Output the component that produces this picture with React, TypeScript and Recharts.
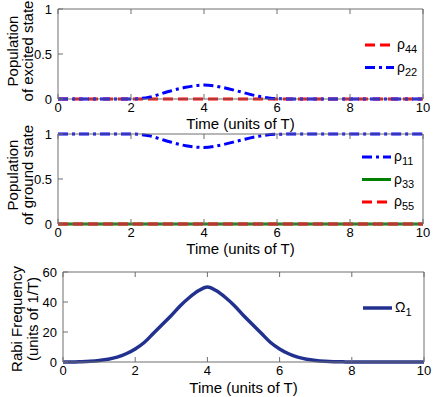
import React from 'react';
import { LineChart, Line, XAxis, YAxis, Legend } from 'recharts';

const FONT = '"Liberation Sans", Arial, Helvetica, sans-serif';
const FRAME = '#6f6f6f';

// ---- data ----
const time = [0, 0.5, 1, 1.5, 2, 2.5, 3, 3.5, 4, 4.5, 5, 5.5, 6, 6.5, 7, 7.5, 8, 8.5, 9, 9.5, 10];
const rho44 = [0, 0, 0, 0, 0, 0, 0, 0, 0, 0, 0, 0, 0, 0, 0, 0, 0, 0, 0, 0, 0];
const rho22 = [0, 0, 0, 0, 0, 0.02, 0.08, 0.13, 0.155, 0.13, 0.08, 0.03, 0.003, 0, 0, 0, 0, 0, 0, 0, 0];
const rho11 = [1, 1, 1, 1, 1, 0.98, 0.92, 0.87, 0.85, 0.88, 0.93, 0.975, 0.997, 1, 1, 1, 1, 1, 1, 1, 1];
const rho33 = [0, 0, 0, 0, 0, 0, 0, 0, 0, 0, 0, 0, 0, 0, 0, 0, 0, 0, 0, 0, 0];
const rho55 = [0, 0, 0, 0, 0, 0, 0, 0, 0, 0, 0, 0, 0, 0, 0, 0, 0, 0, 0, 0, 0];

const timeFine = [
  0, 0.25, 0.5, 0.75, 1, 1.25, 1.5, 1.75, 2, 2.25, 2.5, 2.75, 3, 3.25, 3.5, 3.75, 4,
  4.25, 4.5, 4.75, 5, 5.25, 5.5, 5.75, 6, 6.25, 6.5, 6.75, 7, 7.25, 7.5, 7.75, 8,
  8.25, 8.5, 8.75, 9, 9.25, 9.5, 9.75, 10,
];
const omega1 = [
  0, 0, 0.2, 0.5, 1, 1.8, 3.2, 5.5, 8.7, 13, 19, 25, 31, 37.5, 43, 47.5, 50,
  47.5, 43, 37.5, 31, 25, 19, 13, 8.7, 5.5, 3.2, 1.8, 1, 0.5, 0.2, 0.1, 0,
  0, 0, 0, 0, 0, 0, 0, 0,
];

const xTicks = [0, 2, 4, 6, 8, 10];
const popTicks = [0, 0.5, 1];
const rabiTicks = [0, 20, 40, 60];

const excitedData = time.map((t, i) => ({ t, rho44: rho44[i], rho22: rho22[i] }));
const groundData = time.map((t, i) => ({ t, rho11: rho11[i], rho33: rho33[i], rho55: rho55[i] }));
const rabiData = timeFine.map((t, i) => ({ t, omega1: omega1[i] }));

type S = { key: string; sym: string; sub: string; color: string; dash?: string; width: number };

const DASH = '10 5';
const DASHDOT = '10 4 3 4';

const excitedSeries: S[] = [
  { key: 'rho44', sym: 'ρ', sub: '44', color: '#ff0000', dash: DASH, width: 3 },
  { key: 'rho22', sym: 'ρ', sub: '22', color: '#0000ff', dash: DASHDOT, width: 3 },
];
const groundSeries: S[] = [
  { key: 'rho11', sym: 'ρ', sub: '11', color: '#0000ff', dash: DASHDOT, width: 3 },
  { key: 'rho33', sym: 'ρ', sub: '33', color: '#008000', width: 3 },
  { key: 'rho55', sym: 'ρ', sub: '55', color: '#ff0000', dash: DASH, width: 3 },
];
const rabiSeries: S[] = [
  { key: 'omega1', sym: 'Ω', sub: '1', color: '#22318f', width: 3.5 },
];

// ---- ticks ----
const BottomTick = (p: any) => (
  <g>
    <line x1={p.x} x2={p.x} y1={p.y} y2={p.y - 5} stroke={FRAME} strokeWidth={1} />
    <text x={p.x} y={p.y + 13} textAnchor="middle" fontSize={13} fontFamily={FONT} fill="#000">
      {String(p.payload.value)}
    </text>
  </g>
);
const TopTick = (p: any) => (
  <line x1={p.x} x2={p.x} y1={p.y} y2={p.y + 5} stroke={FRAME} strokeWidth={1} />
);
const LeftTick = (p: any) => (
  <g>
    <line x1={p.x} x2={p.x + 5} y1={p.y} y2={p.y} stroke={FRAME} strokeWidth={1} />
    <text x={p.x - 6} y={p.y + 4.5} textAnchor="end" fontSize={13} fontFamily={FONT} fill="#000">
      {String(p.payload.value)}
    </text>
  </g>
);
const RightTick = (p: any) => (
  <line x1={p.x} x2={p.x - 5} y1={p.y} y2={p.y} stroke={FRAME} strokeWidth={1} />
);

type PanelProps = {
  top: number;
  height: number;
  marginTop: number;
  leftWidth: number;
  rightMargin: number;
  bottomHeight: number;
  data: any[];
  series: S[];
  yDomain: [number, number];
  yTicks: number[];
  yLabel: [string, string];
  yLabelX: [number, number];
  yLabelShift: number;
  titleOffset: number;
  legendTop: number;
  legendLeft: number;
};

function Panel(props: PanelProps) {
  const W = 436;
  const plotTop = props.marginTop + 1;
  const plotBottom = props.height - props.bottomHeight;
  const plotLeft = props.leftWidth;
  const plotRight = W - props.rightMargin - 1;
  const cy = (plotTop + plotBottom) / 2 + props.yLabelShift;
  const cx = (plotLeft + plotRight) / 2;

  const yLabelContent = () => (
    <g>
      {props.yLabel.map((s, i) => (
        <text
          key={i}
          x={props.yLabelX[i]}
          y={cy}
          transform={`rotate(-90, ${props.yLabelX[i]}, ${cy})`}
          textAnchor="middle"
          fontSize={15}
          fontFamily={FONT}
          fill="#000"
        >
          {s}
        </text>
      ))}
    </g>
  );
  const xLabelContent = () => (
    <text x={cx} y={plotBottom + props.titleOffset} textAnchor="middle" fontSize={15} fontFamily={FONT} fill="#000">
      Time (units of T)
    </text>
  );
  const legendContent = () => (
    <svg width={70} height={props.series.length * 22 + 4} style={{ display: 'block' }}>
      {props.series.map((s, i) => {
        const ly = 11 + i * 22.5;
        return (
          <g key={s.key}>
            <line x1={0} x2={29} y1={ly} y2={ly} stroke={s.color} strokeWidth={s.width} strokeDasharray={s.dash} />
            <text x={32} y={ly + 4} fontSize={14} fontFamily={FONT} fill="#000">
              {s.sym}
              <tspan fontSize={11} dy={4}>{s.sub}</tspan>
            </text>
          </g>
        );
      })}
    </svg>
  );

  return (
    <div style={{ position: 'absolute', left: 0, top: props.top, width: W, height: props.height }}>
      <LineChart
        width={W}
        height={props.height}
        data={props.data}
        margin={{ top: props.marginTop, right: props.rightMargin, left: 0, bottom: 0 }}
      >
        <XAxis
          xAxisId="b"
          dataKey="t"
          type="number"
          domain={[0, 10]}
          ticks={xTicks}
          height={props.bottomHeight}
          tickSize={0}
          tickMargin={0}
          tick={BottomTick}
          axisLine={{ stroke: FRAME }}
          interval={0}
          label={{ content: xLabelContent }}
        />
        <XAxis
          xAxisId="top"
          orientation="top"
          dataKey="t"
          type="number"
          domain={[0, 10]}
          ticks={xTicks}
          height={1}
          tickSize={0}
          tickMargin={0}
          tick={TopTick}
          axisLine={{ stroke: FRAME }}
          interval={0}
        />
        <YAxis
          yAxisId="l"
          type="number"
          domain={props.yDomain}
          ticks={props.yTicks}
          width={props.leftWidth}
          tickSize={0}
          tickMargin={0}
          tick={LeftTick}
          axisLine={{ stroke: FRAME }}
          interval={0}
          label={{ content: yLabelContent }}
        />
        <YAxis
          yAxisId="r"
          orientation="right"
          type="number"
          domain={props.yDomain}
          ticks={props.yTicks}
          width={1}
          tickSize={0}
          tickMargin={0}
          tick={RightTick}
          axisLine={{ stroke: FRAME }}
          interval={0}
        />
        {props.series.map((s) => (
          <Line
            key={s.key}
            xAxisId="b"
            yAxisId="l"
            dataKey={s.key}
            type="monotone"
            stroke={s.color}
            strokeWidth={s.width}
            strokeDasharray={s.dash}
            dot={false}
            activeDot={false}
            isAnimationActive={false}
          />
        ))}
        <Legend
          layout="vertical"
          align="center"
          verticalAlign="middle"
          content={legendContent}
          wrapperStyle={{ top: props.legendTop, left: props.legendLeft, width: 70, height: 'auto' }}
        />
      </LineChart>
    </div>
  );
}

export default function App() {
  return (
    <div style={{ position: 'absolute', left: 0, top: 0, width: 436, height: 397, background: '#fff', overflow: 'hidden' }}>
      <Panel
        top={0}
        height={134}
        marginTop={8}
        leftWidth={58}
        rightMargin={12}
        bottomHeight={35}
        data={excitedData}
        series={excitedSeries}
        yDomain={[0, 1]}
        yTicks={popTicks}
        yLabel={['Population', 'of excited state']}
        yLabelX={[18, 33]}
        yLabelShift={-3}
        titleOffset={30}
        legendTop={34}
        legendLeft={365}
      />
      <Panel
        top={125}
        height={133}
        marginTop={8}
        leftWidth={58}
        rightMargin={12}
        bottomHeight={34}
        data={groundData}
        series={groundSeries}
        yDomain={[0, 1]}
        yTicks={popTicks}
        yLabel={['Population', 'of ground state']}
        yLabelX={[18, 33]}
        yLabelShift={-4}
        titleOffset={29.5}
        legendTop={21}
        legendLeft={362}
      />
      <Panel
        top={262}
        height={135}
        marginTop={9}
        leftWidth={63}
        rightMargin={11}
        bottomHeight={35}
        data={rabiData}
        series={rabiSeries}
        yDomain={[0, 60]}
        yTicks={rabiTicks}
        yLabel={['Rabi Frequency', '(units of 1/T)']}
        yLabelX={[22, 38]}
        yLabelShift={2}
        titleOffset={31}
        legendTop={35}
        legendLeft={363}
      />
    </div>
  );
}
